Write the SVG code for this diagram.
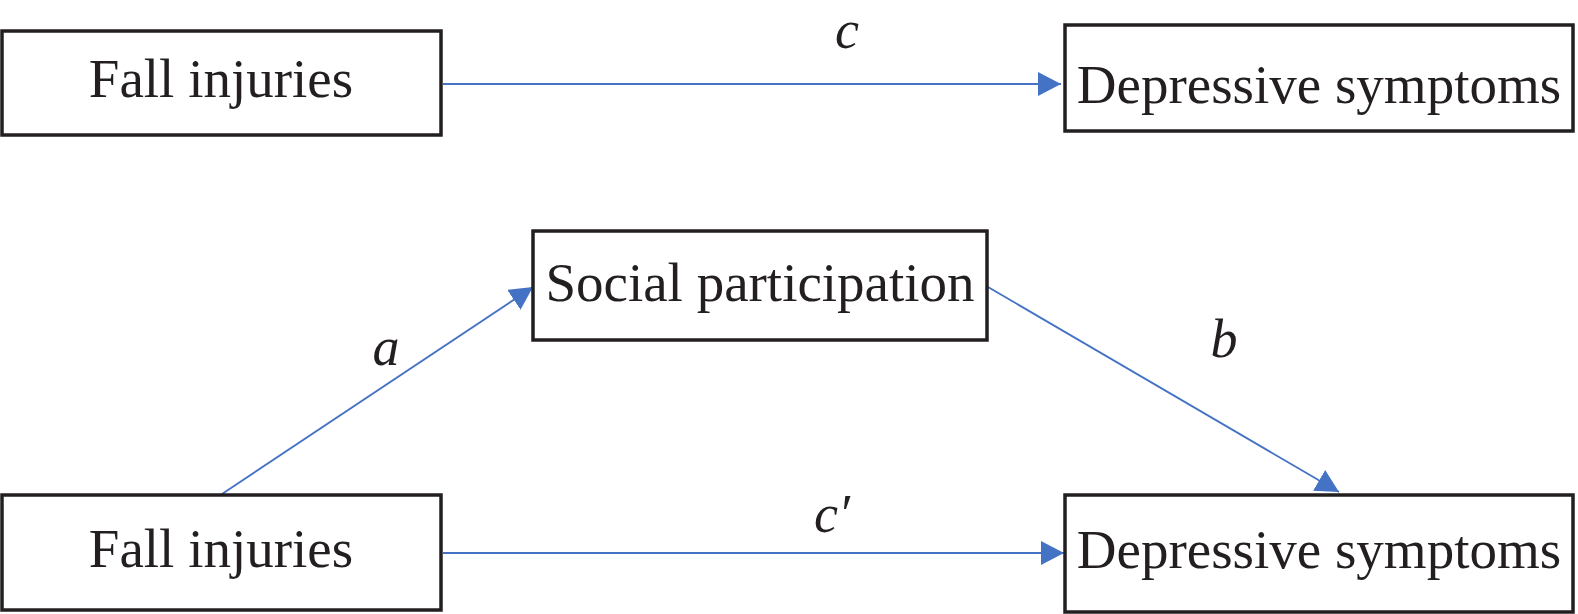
<svg xmlns="http://www.w3.org/2000/svg" width="1578" height="614" viewBox="0 0 1578 614">
<style>
.box{fill:#fff;stroke:#231f20;stroke-width:3.5}
.lbl{font-family:"Liberation Serif","Times New Roman",serif;font-size:55px;fill:#231f20;text-anchor:middle}
.path{font-family:"Liberation Serif","Times New Roman",serif;font-size:54px;font-style:italic;fill:#231f20;text-anchor:middle}
.edge{stroke:#4472c4;stroke-width:1.8;fill:none;marker-end:url(#arr)}
</style>
<defs>
<marker id="arr" markerUnits="userSpaceOnUse" markerWidth="24" markerHeight="24" refX="23" refY="12" orient="auto" viewBox="0 0 24 24">
<path d="M0,0 L23,12 L0,24 z" fill="#4472c4"/>
</marker>
</defs>
<rect width="1578" height="614" fill="#fff"/>
<g id="connectors">
<line class="edge" x1="443" y1="84" x2="1061" y2="84"/>
<line class="edge" x1="222" y1="494" x2="533" y2="287"/>
<line class="edge" x1="988" y1="287" x2="1339" y2="492"/>
<line class="edge" x1="443" y1="553" x2="1064" y2="553"/>
<text class="path" x="847" y="48">c</text>
<text class="path" x="386" y="365">a</text>
<text class="path" x="1224" y="357">b</text>
<text class="path" x="832" y="532">c′</text>
</g>
<g id="fall1">
<rect class="box" x="2" y="31" width="439" height="104"/>
<text class="lbl" x="221" y="97">Fall injuries</text>
</g>
<g id="dep1">
<rect class="box" x="1065" y="25" width="508" height="106"/>
<text class="lbl" x="1319" y="103">Depressive symptoms</text>
</g>
<g id="social">
<rect class="box" x="533" y="231" width="454" height="109"/>
<text class="lbl" x="760" y="301">Social participation</text>
</g>
<g id="fall2">
<rect class="box" x="2" y="495" width="439" height="115"/>
<text class="lbl" x="221" y="567">Fall injuries</text>
</g>
<g id="dep2">
<rect class="box" x="1065" y="495" width="508" height="117"/>
<text class="lbl" x="1319" y="568">Depressive symptoms</text>
</g>
</svg>
